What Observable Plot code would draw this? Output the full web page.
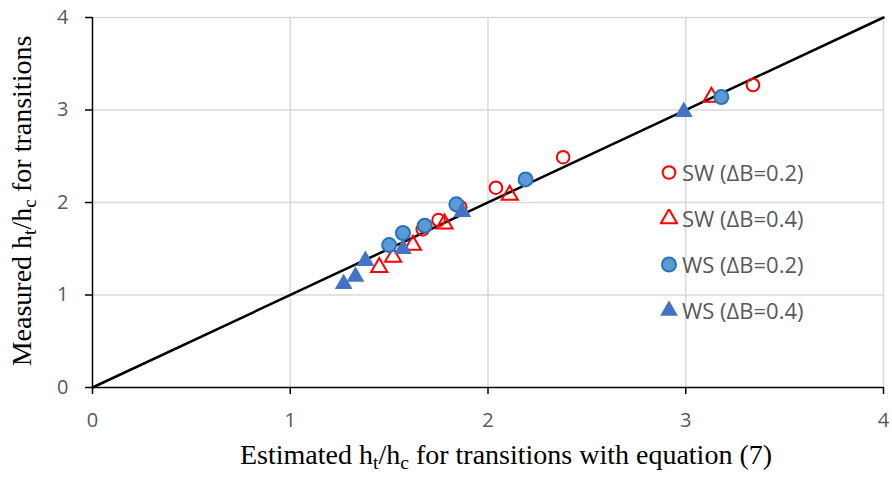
<!DOCTYPE html>
<html>
<head>
<meta charset="utf-8">
<script src="https://cdn.jsdelivr.net/npm/d3@7"></script>
<script src="https://cdn.jsdelivr.net/npm/@observablehq/plot@0.6"></script>
<style>
  html, body { margin: 0; padding: 0; background: #fff; }
  #wrap { position: relative; width: 892px; height: 491px; }
  #legend { position: absolute; left: 660px; top: 149px; font-family: "Open Sans", sans-serif; font-size: 22px; color: #595959; }
  #legend .row { display: flex; align-items: center; height: 46px; }
  #legend svg { margin-right: 4px; }
</style>
</head>
<body>
<div id="wrap"><div id="legend"></div></div>
<script>
// Data
const sw02X = [1.67, 1.75, 1.86, 2.04, 2.38, 3.34];
const sw02Y = [1.71, 1.81, 1.95, 2.16, 2.49, 3.27];
const sw04X = [1.45, 1.52, 1.62, 1.78, 2.11, 3.13];
const sw04Y = [1.30, 1.41, 1.54, 1.77, 2.08, 3.14];
const ws02X = [1.50, 1.57, 1.68, 1.84, 2.19, 3.18];
const ws02Y = [1.54, 1.67, 1.75, 1.98, 2.25, 3.14];
const ws04X = [1.27, 1.33, 1.38, 1.57, 1.87, 2.99];
const ws04Y = [1.12, 1.20, 1.37, 1.50, 1.90, 2.98];
const seriesNames = ["SW (\u0394B=0.2)", "SW (\u0394B=0.4)", "WS (\u0394B=0.2)", "WS (\u0394B=0.4)"];
const lineOfEquality = [0, 4];
const ticks = [0, 1, 2, 3, 4];
const gridTicks = [1, 2, 3, 4];

const pts = (xs, ys) => xs.map((x, i) => ({x, y: ys[i]}));
const sw02 = pts(sw02X, sw02Y), sw04 = pts(sw04X, sw04Y), ws02 = pts(ws02X, ws02Y), ws04 = pts(ws04X, ws04Y);

const styles = [
  {symbol: "circle", fill: "none", stroke: "#ff0000", strokeWidth: 2, r: 6.3},
  {symbol: "triangle", fill: "none", stroke: "#ff0000", strokeWidth: 2, r: 6.0},
  {symbol: "circle", fill: "#5b9bd5", stroke: "#2872bb", strokeWidth: 2, r: 7},
  {symbol: "triangle", fill: "#4472c4", stroke: "none", strokeWidth: 0, r: 6.6}
];

const chart = Plot.plot({
  width: 892,
  height: 491,
  marginLeft: 92,
  marginRight: 9,
  marginTop: 17,
  marginBottom: 104,
  style: {fontFamily: "'Open Sans', sans-serif", background: "#fff"},
  x: {domain: [0, 4]},
  y: {domain: [0, 4]},
  marks: [
    Plot.gridX(gridTicks, {stroke: "#d9d9d9", strokeOpacity: 1, strokeWidth: 1.5}),
    Plot.gridY(gridTicks, {stroke: "#d9d9d9", strokeOpacity: 1, strokeWidth: 1.5}),
    Plot.ruleY([0], {stroke: "#000", strokeWidth: 1.5}),
    Plot.ruleX([0], {stroke: "#000", strokeWidth: 1.5}),
    Plot.axisX(ticks, {tickSize: 7, tickPadding: 18, tickFormat: d3.format("d"), stroke: "#000", strokeWidth: 1.5, fill: "#595959", fontSize: 20, label: null}),
    Plot.axisY(ticks, {tickSize: 7, tickPadding: 17, tickFormat: d3.format("d"), stroke: "#000", strokeWidth: 1.5, fill: "#595959", fontSize: 20, label: null}),
    Plot.line(lineOfEquality, {x: d => d, y: d => d, stroke: "#000", strokeWidth: 2.5}),
    Plot.dot(sw02, {x: "x", y: "y", ...styles[0]}),
    Plot.dot(sw04, {x: "x", y: "y", ...styles[1]}),
    Plot.dot(ws02, {x: "x", y: "y", ...styles[2]}),
    Plot.dot(ws04, {x: "x", y: "y", ...styles[3]})
  ]
});
document.getElementById("wrap").prepend(chart);

// Axis titles with subscripts
const svg = d3.select(chart);
const titleFont = "'Liberation Serif', 'Times New Roman', serif";
function addTitle(g, parts) {
  parts.forEach(([t, sub]) => {
    const ts = g.append("tspan").text(t);
    if (sub) ts.attr("font-size", "70%").attr("baseline-shift", "-25%");
  });
}
const xt = svg.append("text")
  .attr("x", 506).attr("y", 464)
  .attr("text-anchor", "middle")
  .attr("font-family", titleFont).attr("font-size", 28).attr("fill", "#000");
addTitle(xt, [["Estimated h"], ["t", 1], ["/h"], ["c", 1], [" for transitions with equation (7)"]]);
const yt = svg.append("text")
  .attr("transform", "translate(31,201) rotate(-90)")
  .attr("text-anchor", "middle")
  .attr("font-family", titleFont).attr("font-size", 28).attr("fill", "#000");
addTitle(yt, [["Measured h"], ["t", 1], ["/h"], ["c", 1], [" for transitions"]]);

// Legend
const legend = d3.select("#legend");
seriesNames.forEach((name, i) => {
  const s = styles[i];
  const row = legend.append("div").attr("class", "row");
  const sv = row.append("svg").attr("width", 18).attr("height", 18);
  const path = d3.symbol(s.symbol === "circle" ? d3.symbolCircle : d3.symbolTriangle, Math.PI * s.r * s.r)();
  sv.append("path").attr("d", path).attr("transform", "translate(9,9.5)")
    .attr("fill", s.fill).attr("stroke", s.stroke).attr("stroke-width", s.strokeWidth);
  row.append("span").text(name);
});
</script>
</body>
</html>
